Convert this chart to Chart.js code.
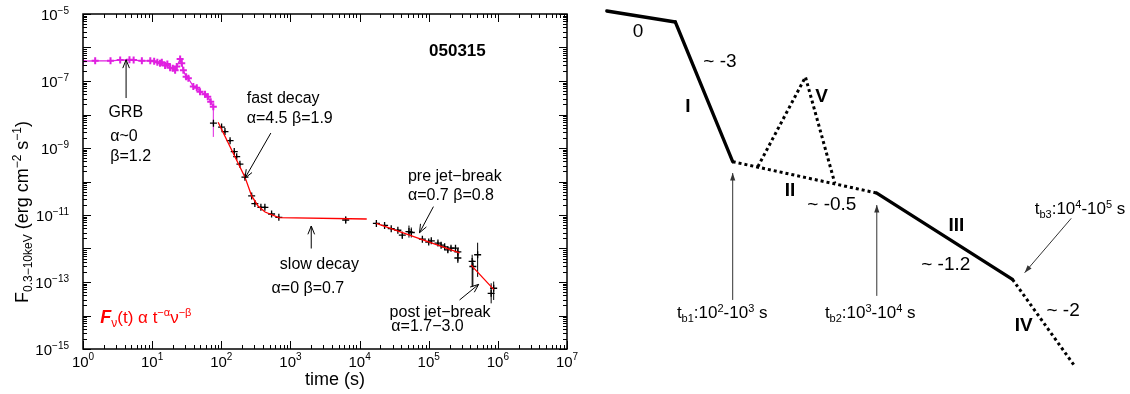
<!DOCTYPE html>
<html>
<head>
<meta charset="utf-8">
<script src="https://cdn.jsdelivr.net/npm/chart.js@4.4.1/dist/chart.umd.min.js"></script>
<style>
  body { margin: 0; background: #fff; width: 1130px; height: 394px; position: relative; overflow: hidden; }
  #lc { position: absolute; left: 0; top: 0; }
  #rc { position: absolute; left: 590px; top: 0; }
</style>
</head>
<body>
<canvas id="lc" width="590" height="394"></canvas>
<canvas id="rc" width="540" height="394"></canvas>
<script>
// GRB 050315 light curve (left panel)
const batTime = [1.0, 1.5, 2.5, 3.45, 4.7, 5.4, 7.1, 9.4, 10.7, 11.9, 13.0, 13.8, 15.4, 16.6, 18.2, 19.9, 21.5, 22.7, 25.4, 26.8, 28.3, 31.0, 33.4, 39.4, 44.2, 49.3, 58.2, 63.7, 70.3, 76.7];
const batFlux = [3.9e-7, 4.0e-7, 4.0e-7, 4.2e-7, 4.3e-7, 4.2e-7, 4.0e-7, 4.0e-7, 3.9e-7, 3.6e-7, 3.4e-7, 3.6e-7, 2.9e-7, 3.2e-7, 2.5e-7, 2.4e-7, 2.1e-7, 2.7e-7, 4.5e-7, 3.4e-7, 2.1e-7, 1.34e-7, 1.2e-7, 6.8e-8, 6.3e-8, 4.8e-8, 4.0e-8, 3.4e-8, 2.4e-8, 1.7e-8];
// error bars in dex
const batErrLo = [0.03, 0.03, 0.03, 0.03, 0.03, 0.03, 0.03, 0.03, 0.03, 0.03, 0.04, 0.04, 0.08, 0.08, 0.08, 0.08, 0.08, 0.08, 0.04, 0.08, 0.08, 0.05, 0.05, 0.06, 0.06, 0.06, 0.06, 0.06, 0.08, 0.9];
const batErrHi = [0.03, 0.03, 0.03, 0.03, 0.03, 0.03, 0.03, 0.03, 0.03, 0.03, 0.04, 0.04, 0.08, 0.08, 0.08, 0.08, 0.08, 0.08, 0.04, 0.08, 0.08, 0.05, 0.05, 0.06, 0.06, 0.06, 0.06, 0.06, 0.08, 0.05];

const xrtTime = [77, 101, 113, 134, 154, 167, 186, 220, 275, 306, 374, 427, 534, 680, 6300, 17500, 23000, 28700, 35800, 41500, 51800, 56000, 81000, 100000, 109000, 136000, 151000, 170000, 189000, 210000, 244000, 264000, 264000, 425000, 435000, 510000, 800000, 870000];
const xrtFlux = [5.5e-9, 4.2e-9, 3.1e-9, 1.66e-9, 7.8e-10, 5.5e-10, 3.3e-10, 1.35e-10, 3.7e-11, 2.2e-11, 1.7e-11, 1.7e-11, 1.07e-11, 8.5e-12, 7.1e-12, 5.6e-12, 4.9e-12, 3.9e-12, 3.5e-12, 2.5e-12, 3.2e-12, 3.0e-12, 1.9e-12, 1.55e-12, 1.7e-12, 1.45e-12, 1.26e-12, 1.12e-12, 9.1e-13, 1.02e-12, 1.02e-12, 7.9e-13, 5.2e-13, 4.1e-13, 2.9e-13, 6.5e-13, 4.6e-14, 6.5e-14];
const xrtErrLo = [0.05, 0.04, 0.04, 0.04, 0.04, 0.04, 0.04, 0.05, 0.04, 0.04, 0.04, 0.04, 0.04, 0.04, 0.1, 0.04, 0.04, 0.04, 0.04, 0.1, 0.18, 0.15, 0.05, 0.05, 0.05, 0.05, 0.05, 0.05, 0.08, 0.06, 0.06, 0.1, 0.15, 0.75, 0.6, 0.66, 0.3, 0.35];
const xrtErrHi = [0.05, 0.04, 0.04, 0.04, 0.04, 0.04, 0.04, 0.05, 0.04, 0.04, 0.04, 0.04, 0.04, 0.04, 0.1, 0.04, 0.04, 0.04, 0.04, 0.1, 0.18, 0.15, 0.05, 0.05, 0.05, 0.05, 0.05, 0.05, 0.08, 0.06, 0.06, 0.1, 0.15, 0.2, 0.2, 0.36, 0.3, 0.2];

// broken power-law fit (null = gap)
const fitTime = [90, 220, 275, 340, 430, 680, 12700, 15000, 17500, 280000, 340000, 410000, 870000];
const fitFlux = [5.9e-9, 1.35e-10, 3.7e-11, 1.86e-11, 1.23e-11, 8.3e-12, 7.6e-12, null, 5.6e-12, 7.4e-13, null, 3.2e-13, 6.0e-14];

const xTickExps = [0, 1, 2, 3, 4, 5, 6, 7];
const yTickExps = [-5, -7, -9, -11, -13, -15];

// schematic canonical light curve (right panel), log t / log F in arbitrary units
const stageT = [1.59, 2.08, 2.49, 3.52, 4.49, 4.93];
const stageF = [0.90, 0.80, -0.47, -0.755, -1.54, -2.32];
const stageDotted = [false, false, true, false, true];
const flareT = [2.67, 3.01, 3.22];
const flareF = [-0.515, 0.30, -0.666];

const FONT = '"Liberation Sans", Arial, sans-serif';
const MAGENTA = '#e020e0';

function runs(ctx, parts, x, y, align) {
  ctx.textAlign = 'left';
  ctx.textBaseline = 'alphabetic';
  let w = 0;
  parts.forEach(p => { ctx.font = p.f + ' ' + FONT; p.w = ctx.measureText(p.t).width; w += p.w; });
  let cx = align === 'right' ? x - w : align === 'center' ? x - w / 2 : x;
  parts.forEach(p => { ctx.font = p.f + ' ' + FONT; ctx.fillText(p.t, cx, y + (p.dy || 0)); cx += p.w; });
}

function arrow(ctx, x1, y1, x2, y2, filled) {
  const a = Math.atan2(y2 - y1, x2 - x1), L = filled ? 8 : 9, s = filled ? 0.33 : 0.38;
  ctx.beginPath();
  ctx.moveTo(x1, y1);
  ctx.lineTo(x2, y2);
  ctx.stroke();
  ctx.beginPath();
  ctx.moveTo(x2 - L * Math.cos(a - s), y2 - L * Math.sin(a - s));
  ctx.lineTo(x2, y2);
  ctx.lineTo(x2 - L * Math.cos(a + s), y2 - L * Math.sin(a + s));
  if (filled) { ctx.closePath(); ctx.fill(); } else ctx.stroke();
}

const leftNotes = [
  { t: '050315', x: 2.6e5, y: 7.9e-7, align: 'center', f: 'bold 17px' },
  { t: 'GRB', x: 4.15, y: 1.15e-8, align: 'center' },
  { t: 'α~0', x: 2.48, y: 2.2e-9, align: 'left' },
  { t: 'β=1.2', x: 2.48, y: 5.5e-10, align: 'left' },
  { t: 'fast decay', x: 233, y: 3.0e-8, align: 'left' },
  { t: 'α=4.5 β=1.9', x: 233, y: 7.8e-9, align: 'left' },
  { t: 'pre jet−break', x: 50000, y: 1.38e-10, align: 'left' },
  { t: 'α=0.7 β=0.8', x: 50000, y: 3.7e-11, align: 'left' },
  { t: 'slow decay', x: 703, y: 3.2e-13, align: 'left' },
  { t: 'α=0 β=0.7', x: 533, y: 6.5e-14, align: 'left' },
  { t: 'post jet−break', x: 27200, y: 1.2e-14, align: 'left' },
  { t: 'α=1.7−3.0', x: 28800, y: 4.7e-15, align: 'left' }
];
const leftArrows = [
  [4.2, 3.1e-8, 4.2, 4.3e-7],
  [521, 2.8e-9, 220, 1.26e-10],
  [117000, 1.78e-11, 73600, 2.95e-12],
  [2000, 1.0e-12, 2000, 4.7e-12],
  [279000, 2.9e-14, 528000, 8.5e-14]
];

const errorBars = {
  id: 'errorBars',
  beforeDatasetsDraw(chart) {
    const { ctx, chartArea: a, scales: { x, y } } = chart;
    ctx.save();
    ctx.beginPath();
    ctx.rect(a.left, a.top, a.right - a.left, a.bottom - a.top);
    ctx.clip();
    chart.data.datasets.forEach(ds => {
      if (!ds.errLo) return;
      ctx.strokeStyle = ds.borderColor;
      ctx.lineWidth = 1;
      ds.data.forEach((p, i) => {
        const px = x.getPixelForValue(p.x);
        ctx.beginPath();
        ctx.moveTo(px, y.getPixelForValue(p.y / Math.pow(10, ds.errLo[i])));
        ctx.lineTo(px, y.getPixelForValue(p.y * Math.pow(10, ds.errHi[i])));
        ctx.stroke();
      });
    });
    ctx.restore();
  }
};

const frame = {
  id: 'frame',
  afterDraw(chart) {
    const { ctx, chartArea: a, scales: { x, y } } = chart;
    ctx.save();
    ctx.strokeStyle = '#000';
    ctx.fillStyle = '#000';
    ctx.lineWidth = 1;
    // ticks on all four sides, pointing inward
    for (let e = 0; e <= 7; e++) {
      for (let m = 1; m <= 9; m++) {
        const v = m * Math.pow(10, e);
        if (v > 1e7) break;
        const px = Math.round(x.getPixelForValue(v)) + 0.5, L = m === 1 ? 8 : 4;
        ctx.beginPath();
        ctx.moveTo(px, a.bottom); ctx.lineTo(px, a.bottom - L);
        ctx.moveTo(px, a.top); ctx.lineTo(px, a.top + L);
        ctx.stroke();
      }
    }
    for (let e = -15; e <= -5; e++) {
      for (let m = 1; m <= 9; m++) {
        const v = m * Math.pow(10, e);
        if (v > 1e-5) break;
        const py = Math.round(y.getPixelForValue(v)) + 0.5, L = m === 1 ? 8 : 4;
        ctx.beginPath();
        ctx.moveTo(a.left, py); ctx.lineTo(a.left + L, py);
        ctx.moveTo(a.right, py); ctx.lineTo(a.right - L, py);
        ctx.stroke();
      }
    }
    ctx.lineWidth = 1.5;
    ctx.strokeRect(a.left, a.top, a.right - a.left, a.bottom - a.top);

    // tick labels
    xTickExps.forEach(e => {
      runs(ctx, [{ t: '10', f: '15px' }, { t: String(e), f: '10px', dy: -7 }], x.getPixelForValue(Math.pow(10, e)), a.bottom + 18, 'center');
    });
    yTickExps.forEach(e => {
      runs(ctx, [{ t: '10', f: '15px' }, { t: String(e).replace('-', '−'), f: '10px', dy: -6 }], a.left - 14, y.getPixelForValue(Math.pow(10, e)) + 5.5, 'right');
    });

    // axis titles
    runs(ctx, [{ t: 'time (s)', f: '18px' }], (a.left + a.right) / 2 + 10, 385, 'center');
    ctx.save();
    ctx.translate(28, 212);
    ctx.rotate(-Math.PI / 2);
    runs(ctx, [
      { t: 'F', f: '18px' }, { t: '0.3−10keV', f: '12px', dy: 4 },
      { t: ' (erg cm', f: '18px' }, { t: '−2', f: '12px', dy: -7 },
      { t: ' s', f: '18px' }, { t: '−1', f: '12px', dy: -7 }, { t: ')', f: '18px' }
    ], 0, 0, 'center');
    ctx.restore();

    // annotations
    leftNotes.forEach(n => {
      ctx.font = (n.f || '16px') + ' ' + FONT;
      ctx.textAlign = n.align;
      ctx.textBaseline = 'middle';
      ctx.fillText(n.t, x.getPixelForValue(n.x), y.getPixelForValue(n.y));
    });
    ctx.lineWidth = 1;
    leftArrows.forEach(r => arrow(ctx, x.getPixelForValue(r[0]), y.getPixelForValue(r[1]), x.getPixelForValue(r[2]), y.getPixelForValue(r[3]), false));

    ctx.fillStyle = '#f00';
    runs(ctx, [
      { t: 'F', f: 'italic bold 18px' }, { t: 'ν', f: '12px', dy: 4 },
      { t: '(t) α t', f: '17px' }, { t: '−α', f: '11px', dy: -7 },
      { t: 'ν', f: '17px' }, { t: '−β', f: '11px', dy: -7 }
    ], x.getPixelForValue(1.78), y.getPixelForValue(9.1e-15) + 6, 'left');
    ctx.restore();
  }
};

new Chart(document.getElementById('lc'), {
  type: 'line',
  data: {
    datasets: [
      {
        label: 'fit',
        data: fitTime.map((t, i) => ({ x: t, y: fitFlux[i] })),
        borderColor: '#ff0000',
        borderWidth: 1.3,
        pointRadius: 0,
        spanGaps: false,
        order: 0
      },
      {
        label: 'XRT',
        data: xrtTime.map((t, i) => ({ x: t, y: xrtFlux[i] })),
        errLo: xrtErrLo,
        errHi: xrtErrHi,
        showLine: false,
        borderColor: '#000',
        pointStyle: 'cross',
        pointRadius: 3.5,
        pointBorderWidth: 1.3,
        order: 1
      },
      {
        label: 'BAT',
        data: batTime.map((t, i) => ({ x: t, y: batFlux[i] })),
        errLo: batErrLo,
        errHi: batErrHi,
        borderColor: MAGENTA,
        borderWidth: 1.2,
        pointStyle: 'cross',
        pointRadius: 3.5,
        pointBorderWidth: 2,
        order: 2
      }
    ]
  },
  options: {
    responsive: false,
    animation: false,
    devicePixelRatio: 1,
    layout: { padding: { left: 83, right: 23, top: 14, bottom: 45 } },
    plugins: { legend: { display: false }, tooltip: { enabled: false } },
    scales: {
      x: { type: 'logarithmic', min: 1, max: 1e7, display: false },
      y: { type: 'logarithmic', min: 1e-15, max: 1e-5, display: false }
    }
  },
  plugins: [errorBars, frame]
});

// right panel: schematic
const rightNotes = [
  { t: '0', x: 1.813, y: 0.712, f: '19px' },
  { t: '~ -3', x: 2.399, y: 0.436, f: '19px' },
  { t: 'I', x: 2.17, y: 0.03, f: 'bold 19px' },
  { t: 'V', x: 3.125, y: 0.121, f: 'bold 19px' },
  { t: 'II', x: 2.899, y: -0.736, f: 'bold 19px' },
  { t: '~ -0.5', x: 3.199, y: -0.864, f: '19px' },
  { t: 'III', x: 4.089, y: -1.05, f: 'bold 19px' },
  { t: '~ -1.2', x: 4.013, y: -1.41, f: '19px' },
  { t: 'IV', x: 4.57, y: -1.96, f: 'bold 19px' },
  { t: '~ -2', x: 4.852, y: -1.823, f: '19px' }
];
const breakLabels = [
  { n: 'b1', a: '2', b: '3', x: 2.091, y: -1.836 },
  { n: 'b2', a: '3', b: '4', x: 3.149, y: -1.836 },
  { n: 'b3', a: '4', b: '5', x: 4.649, y: -0.891 }
];
const rightArrows = [
  [2.49, -1.727, 2.49, -0.573],
  [3.52, -1.69, 3.52, -0.864],
  [4.91, -0.985, 4.577, -1.479]
];

const sketchText = {
  id: 'sketchText',
  afterDraw(chart) {
    const { ctx, scales: { x, y } } = chart;
    ctx.save();
    ctx.fillStyle = '#000';
    rightNotes.forEach(n => {
      ctx.font = n.f + ' ' + FONT;
      ctx.textAlign = 'center';
      ctx.textBaseline = 'middle';
      ctx.fillText(n.t, x.getPixelForValue(n.x), y.getPixelForValue(n.y));
    });
    breakLabels.forEach(b => {
      runs(ctx, [
        { t: 't', f: '17px' }, { t: b.n, f: '11px', dy: 4 },
        { t: ':10', f: '17px' }, { t: b.a, f: '11px', dy: -6 },
        { t: '-10', f: '17px' }, { t: b.b, f: '11px', dy: -6 },
        { t: ' s', f: '17px' }
      ], x.getPixelForValue(b.x), y.getPixelForValue(b.y) + 6, 'left');
    });
    ctx.strokeStyle = '#333';
    ctx.fillStyle = '#333';
    ctx.lineWidth = 1;
    rightArrows.forEach(r => arrow(ctx, x.getPixelForValue(r[0]), y.getPixelForValue(r[1]), x.getPixelForValue(r[2]), y.getPixelForValue(r[3]), true));
    ctx.restore();
  }
};

const sketchSets = stageDotted.map((dotted, i) => ({
  data: [{ x: stageT[i], y: stageF[i] }, { x: stageT[i + 1], y: stageF[i + 1] }],
  borderColor: '#000',
  borderWidth: dotted ? 3 : 3.3,
  borderDash: dotted ? [3, 3] : [],
  borderCapStyle: dotted ? 'butt' : 'round',
  pointRadius: 0
}));
sketchSets.push({
  data: flareT.map((t, i) => ({ x: t, y: flareF[i] })),
  borderColor: '#000',
  borderWidth: 3,
  borderDash: [3, 3],
  borderCapStyle: 'butt',
  pointRadius: 0
});

new Chart(document.getElementById('rc'), {
  type: 'line',
  data: { datasets: sketchSets },
  options: {
    responsive: false,
    animation: false,
    devicePixelRatio: 1,
    layout: { padding: 0 },
    plugins: { legend: { display: false }, tooltip: { enabled: false } },
    scales: {
      x: { type: 'linear', min: 1.47, max: 5.33, display: false },
      y: { type: 'linear', min: -2.582, max: 1.0, display: false }
    }
  },
  plugins: [sketchText]
});
</script>
</body>
</html>
